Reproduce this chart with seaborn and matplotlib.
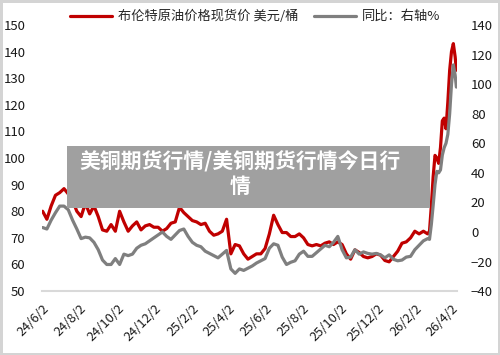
import pandas as pd
import matplotlib
matplotlib.use("Agg")
import matplotlib.pyplot as plt
from matplotlib.patches import Rectangle
import seaborn as sns

# weekly points from 2024-06-02 to 2026-02-22
brent_weekly = [80, 77, 82, 86, 87, 88.5, 86.5, 84, 80, 78,
                83, 79, 82, 78, 73, 72.5, 75, 72.5, 80, 76,
                72.5, 74.5, 76, 73, 74.5, 75, 74, 74, 72.5, 73.5,
                75.5, 76, 81.5, 79.5, 78, 76.5, 76, 75, 75.5, 72.5,
                71, 71.5, 72.5, 77, 64, 67.5, 67, 64, 62, 63,
                64, 64, 66, 71.5, 78.5, 75, 72, 72, 70.5, 70.5,
                71.5, 70, 67.5, 67, 67.5, 67, 68, 68.5, 67.5, 68.5,
                67.5, 64, 62, 65.5, 64.5, 63, 62.5, 63, 64, 63.5,
                61.5, 61, 63, 65, 68, 68.5, 70, 72.5, 71.5, 72.5,
                71.5]
yoy_weekly = [3, 2, 8, 13, 17.5, 17.5, 15, 8, 2, -4.5,
              -3.5, -4, -7, -12, -19, -22, -22, -18, -22, -15,
              -16, -15, -11, -9, -8, -6, -4, -2, 0, -3,
              -5, -2, 1, 2, -3, -7, -9, -10, -13, -14.5,
              -16, -17.5, -15, -12.5, -25, -28, -25, -26, -24.5, -23,
              -21, -19.5, -18, -11, -8, -9, -17, -22, -20.5, -19.5,
              -15, -13, -16.5, -16.5, -14, -11.5, -9, -10, -7, -3,
              -12, -17.5, -17, -12, -15, -13.5, -14.5, -15, -14.5, -15.5,
              -17.5, -15.5, -18.5, -19.5, -19, -17, -16.5, -12, -9, -6,
              -4.5]

# tail every 3 days
tail_dates = ["2026-02-25", "2026-02-28", "2026-03-03", "2026-03-06", "2026-03-09",
              "2026-03-12", "2026-03-15", "2026-03-18", "2026-03-21", "2026-03-24",
              "2026-03-27", "2026-03-30", "2026-04-02", "2026-04-05", "2026-04-08",
              "2026-04-10"]
brent_tail = [72.5, 82, 93, 101, 100, 98, 104, 114, 115, 111, 121, 133, 140, 143, 138, 133]
yoy_tail = [-5, 5, 18, 32, 41, 40, 42, 52, 57, 60, 66, 80, 100, 113, 106, 98]

tick_dates = ["2024-06-02", "2024-08-02", "2024-10-02", "2024-12-02", "2025-02-02",
              "2025-04-02", "2025-06-02", "2025-08-02", "2025-10-02", "2025-12-02",
              "2026-02-02", "2026-04-02"]
tick_labels = ["24/6/2", "24/8/2", "24/10/2", "24/12/2", "25/2/2", "25/4/2",
               "25/6/2", "25/8/2", "25/10/2", "25/12/2", "26/2/2", "26/4/2"]

dates = list(pd.date_range("2024-06-02", periods=len(brent_weekly), freq="7D")) + list(pd.to_datetime(tail_dates))
df = pd.DataFrame({"date": dates,
                   "brent": brent_weekly + brent_tail,
                   "yoy": yoy_weekly + yoy_tail})

sns.set_style("white")
plt.rcParams["font.family"] = ["Noto Sans CJK SC", "DejaVu Sans"]

fig = plt.figure(figsize=(5, 3.55), dpi=100)
fig.patch.set_edgecolor("#d4d4d4")
fig.patch.set_linewidth(2.5)
ax = fig.add_axes([0.084, 0.180, 0.83, 0.7496])
ax2 = ax.twinx()

sns.lineplot(data=df, x="date", y="brent", ax=ax, color="#c00000", linewidth=2.3,
             label="布伦特原油价格现货价 美元/桶", legend=False)
sns.lineplot(data=df, x="date", y="yoy", ax=ax2, color="#7f7f7f", linewidth=2.3,
             label="同比：右轴%", legend=False)

ax.set_xlim(pd.Timestamp("2024-06-01"), pd.Timestamp("2026-04-11"))
ax.set_ylim(50, 150)
ax.set_yticks(range(50, 151, 10))
ax2.set_ylim(-40, 140)
ax2.set_yticks(range(-40, 141, 20))
ax.set_xticks(pd.to_datetime(tick_dates))
ax.set_xticklabels(tick_labels, rotation=45, ha="right", rotation_mode="anchor")
ax.set_xlabel("")
ax.set_ylabel("")
ax2.set_ylabel("")

for a in (ax, ax2):
    for s in ("top", "left", "right"):
        a.spines[s].set_visible(False)
ax2.spines["bottom"].set_visible(False)
ax.spines["bottom"].set_color("#d9d9d9")
ax.spines["bottom"].set_linewidth(1.5)

ax.tick_params(axis="x", direction="out", length=5, width=1, color="#d9d9d9",
               labelsize=9.3, labelcolor="#1a1a1a", pad=3)
ax.tick_params(axis="y", length=0, labelsize=9.5, labelcolor="#1a1a1a", pad=12)
ax2.tick_params(axis="y", length=0, labelsize=9.5, labelcolor="#1a1a1a", pad=10)
ax.grid(False)
ax2.grid(False)

h1, l1 = ax.get_legend_handles_labels()
h2, l2 = ax2.get_legend_handles_labels()
fig.legend(h1 + h2, l1 + l2, loc="center", bbox_to_anchor=(0.51, 0.953), ncol=2,
           frameon=False, fontsize=9.5, handlelength=3.2, columnspacing=1.2,
           handletextpad=0.4)

fig.add_artist(Rectangle((67 / 500, 1 - 208 / 355), (430 - 67) / 500, (208 - 146) / 355,
                         transform=fig.transFigure, facecolor="#a0a0a0",
                         edgecolor="none", zorder=5))
fig.text(240 / 500, 1 - 174 / 355, "美铜期货行情/美铜期货行情今日行\n情",
         ha="center", va="center", color="white", fontsize=15, fontweight="bold",
         linespacing=1.2, zorder=6)

fig.savefig("out.png", dpi=100)
